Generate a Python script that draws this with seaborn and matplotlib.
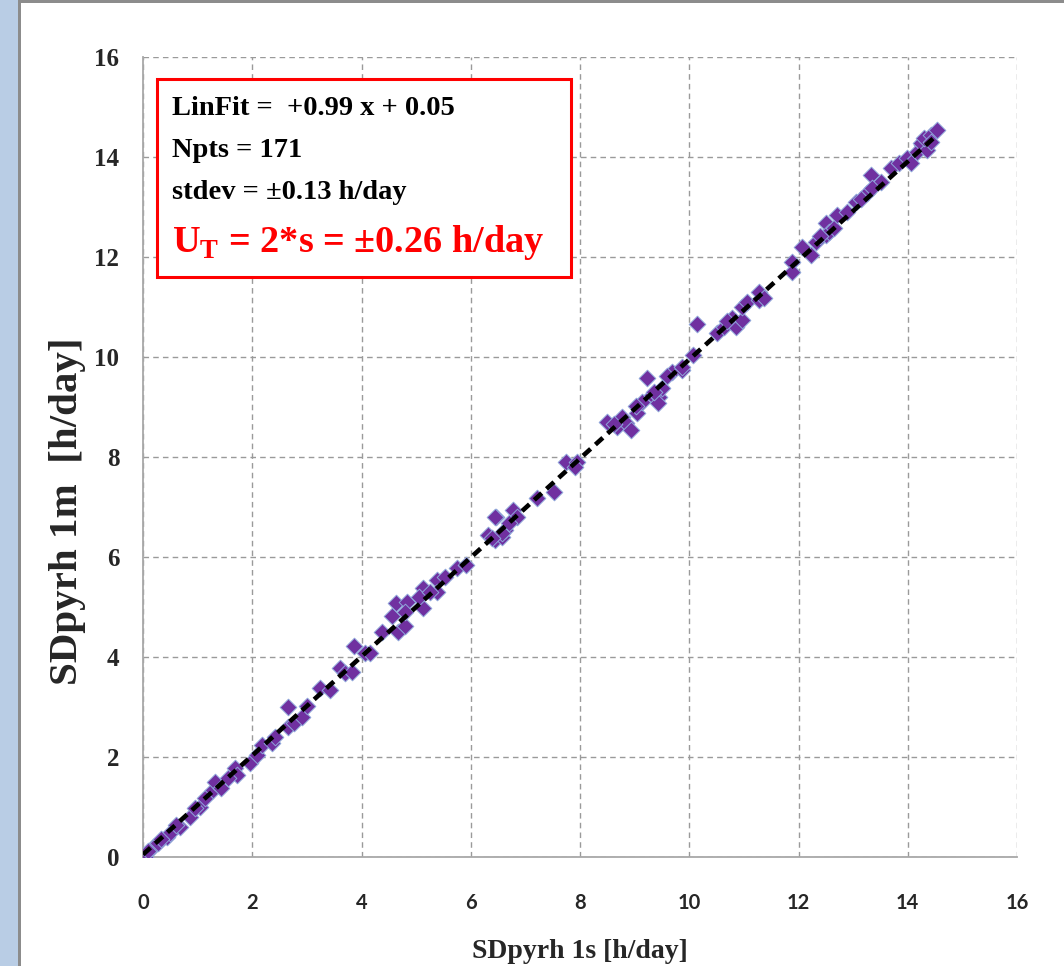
import numpy as np
import pandas as pd
import matplotlib
matplotlib.use("Agg")
import matplotlib.pyplot as plt
import seaborn as sns
from matplotlib.patches import Rectangle

# Daily sunshine duration from pyranometer data: 1-second vs 1-minute sampling
sd_1s = [0.04, 0.18, 0.27, 0.44, 0.49, 0.68, 0.86, 1.04, 1.13, 1.28, 1.32, 1.43,
         1.68, 1.72, 1.96, 2.08, 2.18, 2.36, 2.41, 2.65, 2.65, 2.76, 2.91, 3.24,
         3.42, 3.60, 3.69, 3.82, 3.86, 4.06, 4.15, 4.37, 4.55, 4.64, 4.66, 4.79,
         4.83, 4.79, 5.12, 5.12, 5.06, 5.39, 5.39, 5.52, 5.74, 5.92, 6.31, 6.47,
         6.44, 6.58, 6.62, 6.44, 6.77, 6.84, 6.58, 7.22, 7.53, 6.38, 7.75, 7.94,
         7.90, 8.50, 8.67, 8.76, 8.85, 8.94, 9.05, 9.14, 9.23, 9.31, 9.45, 9.42,
         9.51, 9.69, 9.87, 8.63, 9.03, 9.35, 9.87, 10.06, 10.15, 10.50, 10.64,
         10.79, 10.86, 10.97, 10.97, 11.06, 11.28, 11.28, 11.37, 11.89, 11.89,
         12.07, 12.23, 12.32, 12.51, 12.50, 12.56, 12.65, 12.71, 12.89, 13.06,
         13.26, 13.33, 13.51, 13.70, 13.84, 13.99, 14.06, 14.26, 13.35, 14.17,
         14.24, 14.35, 14.30, 14.43, 14.54, 14.43, 0.10, 0.33, 0.60, 0.95, 1.55,
         3.00, 5.25, 6.70, 9.60, 10.70, 12.40, 13.15]
sd_1m = [0.00, 0.20, 0.28, 0.40, 0.48, 0.60, 0.80, 1.00, 1.18, 1.34, 1.50, 1.38,
         1.78, 1.64, 1.88, 2.04, 2.24, 2.28, 2.40, 2.60, 3.00, 2.68, 2.80, 3.38,
         3.34, 3.78, 3.68, 3.70, 4.22, 4.08, 4.08, 4.50, 4.82, 5.08, 4.50, 4.62,
         5.10, 4.90, 5.38, 4.98, 5.20, 5.54, 5.30, 5.60, 5.78, 5.84, 6.44, 6.80,
         6.34, 6.40, 6.54, 6.80, 6.94, 6.80, 6.48, 7.18, 7.30, 6.38, 7.90, 7.90,
         7.80, 8.70, 8.60, 8.80, 8.68, 8.54, 8.88, 9.10, 9.58, 9.24, 9.20, 9.08,
         9.38, 9.70, 9.74, 8.66, 9.02, 9.30, 9.80, 10.04, 10.66, 10.48, 10.60,
         10.78, 10.60, 10.74, 11.00, 11.10, 11.14, 11.30, 11.18, 11.90, 11.70,
         12.20, 12.04, 12.30, 12.44, 12.68, 12.50, 12.58, 12.84, 12.90, 13.10,
         13.28, 13.64, 13.50, 13.78, 13.88, 13.98, 13.88, 14.24, 13.38, 14.10,
         14.28, 14.14, 14.38, 14.44, 14.54, 14.30, 0.12, 0.36, 0.64, 0.98, 1.58,
         3.02, 5.30, 6.68, 9.62, 10.72, 12.42, 13.16]

fit_slope = 0.99
fit_offset = 0.05
x_ticks = [0, 2, 4, 6, 8, 10, 12, 14, 16]
y_ticks = [0, 2, 4, 6, 8, 10, 12, 14, 16]

stats_lines = ["LinFit =  +0.99 x + 0.05", "Npts = 171", "stdev = \u00b10.13 h/day"]
uncert_line = "U$_\\mathrm{T}$ = 2*s = \u00b10.26 h/day"
x_label = "SDpyrh 1s [h/day]"
y_label = "SDpyrh 1m  [h/day]"

df = pd.DataFrame({"sd_1s": sd_1s, "sd_1m": sd_1m})

sns.set_style("white")
plt.rcParams["font.family"] = ["Liberation Serif", "DejaVu Serif"]
plt.rcParams["mathtext.fontset"] = "custom"
plt.rcParams["mathtext.rm"] = "Liberation Serif:bold"
plt.rcParams["mathtext.bf"] = "Liberation Serif:bold"

W, H = 1064, 966
fig = plt.figure(figsize=(W / 100, H / 100), dpi=100)
fig.patch.set_facecolor("white")

# slide-style frame: blue strip on the left, grey rules on the left and top
fig.add_artist(Rectangle((0, 0), 18 / W, 1, transform=fig.transFigure,
                         facecolor="#B9CDE5", edgecolor="none", zorder=0))
fig.add_artist(Rectangle((18 / W, 0), 2.5 / W, 1, transform=fig.transFigure,
                         facecolor="#8C8C8C", edgecolor="none", zorder=0))
fig.add_artist(Rectangle((18 / W, 1 - 2.5 / H), 1, 2.5 / H, transform=fig.transFigure,
                         facecolor="#8C8C8C", edgecolor="none", zorder=0))

ax = fig.add_axes([143 / W, 1 - 857 / H, (1017 - 143) / W, (857 - 57) / H])
ax.set_facecolor("white")

sns.scatterplot(data=df, x="sd_1s", y="sd_1m", ax=ax, marker="D", s=72,
                color="#7030A0", edgecolor="#8EA6DA", linewidth=0.7, zorder=3,
                legend=False)

xs = np.array([min(sd_1s) - 0.04, max(sd_1s)])
ax.plot(xs, fit_slope * xs + fit_offset, color="black", lw=3.3,
        dashes=(2.2, 1.4), zorder=4)

ax.set_xlim(0, 16)
ax.set_ylim(0, 16)
ax.set_xticks(x_ticks)
ax.set_yticks(y_ticks)
ax.grid(True, color="#9A9A9A", linestyle=(0, (4, 3)), linewidth=1.0, zorder=0)
for side in ("top", "right"):
    ax.spines[side].set_visible(False)
for side in ("left", "bottom"):
    ax.spines[side].set_color("#A8A8A8")
    ax.spines[side].set_linewidth(1.3)
ax.tick_params(axis="both", direction="out", length=7, width=1, color="#A8A8A8")
ax.tick_params(axis="x", pad=19)
ax.tick_params(axis="y", pad=10)

for lab in ax.get_xticklabels():
    lab.set_fontfamily(["Lato", "DejaVu Sans"])
    lab.set_fontweight("bold")
    lab.set_fontsize(14.5)
for lab in ax.get_yticklabels():
    lab.set_fontfamily(["Liberation Serif", "DejaVu Serif"])
    lab.set_fontweight("bold")
    lab.set_fontsize(18)

ax.set_xlabel("")
ax.set_ylabel("")
fig.text(580 / W, 1 - 951 / H, x_label, fontsize=20, fontweight="bold",
         ha="center", va="center")
fig.text(68 / W, 1 - 511 / H, y_label, rotation=90, fontsize=29.5,
         fontweight="bold", ha="center", va="center")

# statistics box
fig.add_artist(Rectangle((157 / W, 1 - 277 / H), (571 - 157) / W, (277 - 79) / H,
                         transform=fig.transFigure, facecolor="white",
                         edgecolor="#FF0000", linewidth=2.2, zorder=5))
for text, ypix in zip(stats_lines, [115, 157, 199]):
    fig.text(172 / W, 1 - ypix / H, text, fontsize=20.5, fontweight="bold",
             color="black", va="baseline", ha="left", zorder=6)
fig.text(172 / W, 1 - 252 / H, uncert_line, fontsize=27.5, fontweight="bold",
         color="#FF0000", va="baseline", ha="left", zorder=6)

fig.savefig("out.png", dpi=100, facecolor="white")
